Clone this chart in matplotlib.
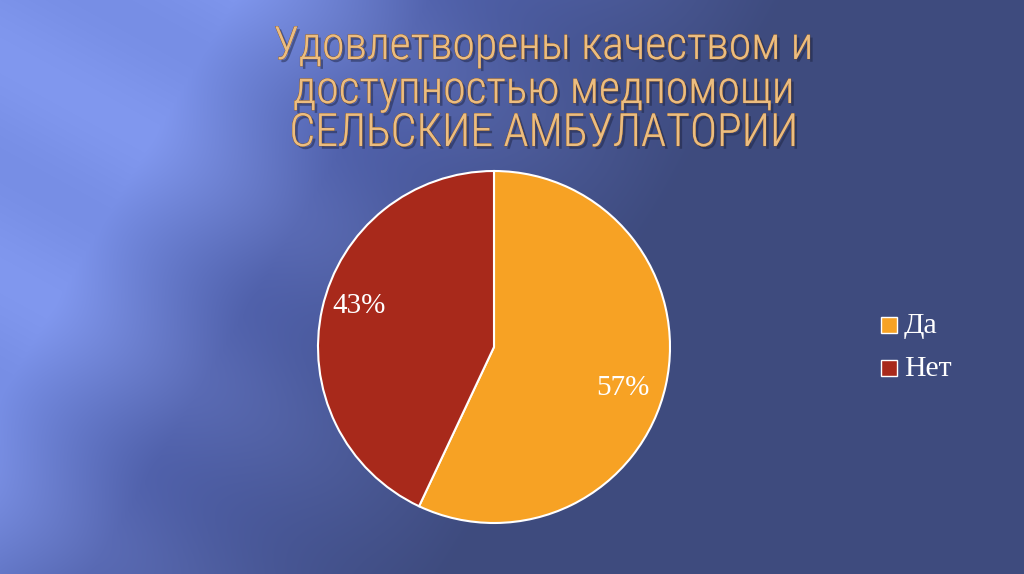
import numpy as np
import matplotlib
matplotlib.use("Agg")
import matplotlib.pyplot as plt
import matplotlib.patheffects as pe
from matplotlib.patches import Rectangle

# --------------------------------------------------
# Data
# --------------------------------------------------

labels = ["Да", "Нет"]
shares = [57, 43]
colors = ["#f7a224", "#a8291b"]

title_lines = [
    "Удовлетворены качеством и",
    "доступностью медпомощи",
    "СЕЛЬСКИЕ АМБУЛАТОРИИ",
]

# label placement (angle in degrees, fraction of radius), as on the slide
label_spots = [(-17.8, 0.77), (163.0, 0.80)]

W, H = 1024, 574

fig = plt.figure(figsize=(W / 100, H / 100), dpi=100)

# --------------------------------------------------
# Background gradient
# --------------------------------------------------

bg_ax = fig.add_axes([0, 0, 1, 1])
yy, xx = np.mgrid[0:H, 0:W]
u = xx / 650 + yy / 1100
light = np.array([0x7c, 0x93, 0xea]) / 255
mid = np.array([0x55, 0x66, 0xb0]) / 255
dark = np.array([0x3e, 0x4b, 0x7e]) / 255
t1 = np.clip((u - 0.36) / 0.30, 0, 1)[..., None]
t2 = np.clip((u - 0.66) / 0.55, 0, 1)[..., None]
img = light + (mid - light) * t1
img = img + (dark - mid) * t2
# faint diagonal streaks
streak = 0.018 * np.sin((yy - 0.55 * xx) / 35.0)[..., None] * (1 - t2)
img = np.clip(img + streak, 0, 1)
bg_ax.imshow(img, extent=[0, W, H, 0], aspect="auto")
bg_ax.set_xlim(0, W)
bg_ax.set_ylim(H, 0)
bg_ax.axis("off")

# --------------------------------------------------
# Title
# --------------------------------------------------

title_font = ["Roboto Condensed", "PT Sans Narrow", "DejaVu Sans"]
title_y = [46, 90, 133]
for line, y in zip(title_lines, title_y):
    fig.text(
        544 / W, 1 - y / H, line,
        ha="center", va="center",
        fontsize=33, fontweight="light", color="#ecbd80",
        family=title_font,
        path_effects=[
            pe.withSimplePatchShadow(offset=(2, -2), shadow_rgbFace="#1a1f3a", alpha=0.45),
            pe.Stroke(linewidth=0.5, foreground="#7a4d22"),
            pe.Normal(),
        ],
    )

# --------------------------------------------------
# Pie
# --------------------------------------------------

cx, cy, r = 494, 347, 176
ax = fig.add_axes([(cx - r) / W, 1 - (cy + r) / H, 2 * r / W, 2 * r / H])
wedges, texts, autotexts = ax.pie(
    shares,
    colors=colors,
    startangle=90,
    counterclock=False,
    autopct="%d%%",
    wedgeprops=dict(edgecolor="white", linewidth=1.5),
    textprops=dict(color="white", fontsize=21, family="Liberation Serif"),
)
for txt, (ang, dist) in zip(autotexts, label_spots):
    a = np.deg2rad(ang)
    txt.set_position((dist * np.cos(a), dist * np.sin(a)))
ax.set_xlim(-1, 1)
ax.set_ylim(-1, 1)
ax.set_aspect("auto")

# --------------------------------------------------
# Legend
# --------------------------------------------------

leg_y = [325, 368]
for lab, col, y in zip(labels, colors, leg_y):
    bg_ax.add_patch(Rectangle((881, y - 8), 16, 16, facecolor=col,
                              edgecolor="white", linewidth=1))
    bg_ax.text(904, y + 1, lab, ha="left", va="center", fontsize=21.5,
               color="white", family="Liberation Serif")

fig.savefig("out.png", dpi=100)
